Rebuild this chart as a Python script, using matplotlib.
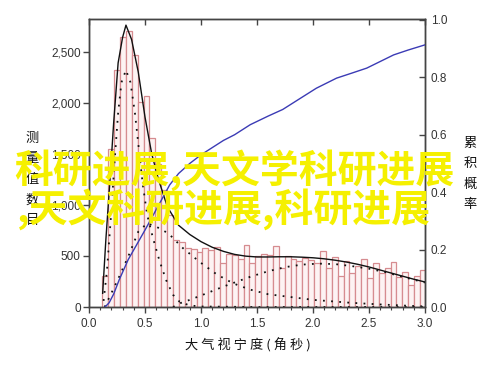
import numpy as np
import matplotlib.pyplot as plt
from matplotlib.ticker import FuncFormatter, MultipleLocator, NullLocator

plt.rcParams['font.family'] = ['Liberation Sans', 'Noto Sans CJK SC', 'DejaVu Sans']

# histogram of measured seeing values (bin width ~0.0525 arcsec, first edge 0.12)
bin_start = 0.12
bin_width = 0.0525
counts = [300, 1550, 2320, 2640, 2700, 2470, 2010, 2070, 1650, 1400,
          1150, 900, 660, 640, 580, 565, 540, 580, 560, 590,
          430, 520, 510, 470, 608, 430, 500, 520, 510, 598,
          380, 500, 470, 454, 477, 461, 430, 552, 380, 493,
          307, 454, 333, 400, 470, 284, 431, 330, 380, 444,
          290, 346, 216, 300, 363]

# fitted total (solid black)
fit_x = [0.122, 0.15, 0.1875, 0.22, 0.26, 0.30, 0.33, 0.38, 0.44, 0.50,
         0.56, 0.62, 0.70, 0.80, 0.90, 1.00, 1.10, 1.20, 1.30, 1.40,
         1.50, 1.60, 1.70, 1.80, 1.90, 2.00, 2.10, 2.20, 2.30, 2.40,
         2.50, 2.60, 2.70, 2.80, 2.90, 3.00]
fit_y = [134, 650, 1245, 1800, 2390, 2640, 2760, 2620, 2300, 1860,
         1500, 1250, 980, 800, 710, 640, 585, 545, 515, 498,
         490, 490, 492, 492, 488, 482, 472, 458, 440, 418,
         392, 362, 332, 302, 272, 245]

# fitted components (dotted)
comp1_x = [0.13, 0.16, 0.20, 0.23, 0.26, 0.29, 0.33, 0.37, 0.41, 0.44,
           0.48, 0.52, 0.57, 0.63, 0.69, 0.75, 0.81, 0.90, 1.00, 1.50, 2.00, 2.50, 3.00]
comp1_y = [60, 350, 950, 1450, 1900, 2200, 2320, 2200, 1900, 1600,
           1200, 900, 680, 450, 260, 120, 50, 15, 5, 0, 0, 0, 0]

comp2_x = [0.14, 0.25, 0.35, 0.44, 0.52, 0.60, 0.71, 0.84, 0.99, 1.14,
           1.29, 1.44, 1.60, 1.82, 2.00, 2.33, 2.60, 2.93, 3.00]
comp2_y = [0, 250, 493, 738, 820, 787, 720, 575, 440, 320,
           230, 170, 125, 95, 70, 42, 25, 8, 6]

comp3_x = [0.75, 0.81, 0.90, 1.05, 1.20, 1.32, 1.45, 1.60, 1.75, 1.90,
           2.05, 2.20, 2.35, 2.50, 2.65, 2.80, 3.00]
comp3_y = [0, 36, 70, 134, 200, 248, 300, 350, 390, 415,
           425, 420, 400, 375, 340, 295, 240]

# cumulative probability (blue, right axis)
cum_x = [0.143, 0.18, 0.22, 0.27, 0.35, 0.43, 0.50, 0.58, 0.65, 0.72,
         0.80, 0.90, 1.00, 1.10, 1.20, 1.30, 1.44, 1.60, 1.73, 1.90,
         2.03, 2.21, 2.35, 2.48, 2.60, 2.72, 2.85, 3.00]
cum_y = [0.0, 0.015, 0.045, 0.095, 0.165, 0.22, 0.268, 0.325, 0.375, 0.425,
         0.465, 0.50, 0.53, 0.555, 0.58, 0.60, 0.635, 0.665, 0.688, 0.73,
         0.762, 0.797, 0.815, 0.832, 0.855, 0.878, 0.895, 0.913]

overlay_lines = ["科研进展,天文学科研进展", ",天文科研进展,科研进展"]
ylabel_left = "测量值数目"
ylabel_right = "累积概率"
xlabel = "大 气 视 宁 度 ( 角 秒 )"

SPINE = "#444444"
CJK = ['Noto Sans CJK SC', 'DejaVu Sans']

fig = plt.figure(figsize=(5.0, 3.69), dpi=100)
ax = fig.add_axes([0.178, 0.168, 0.672, 0.7805])

centers = bin_start + bin_width * (np.arange(len(counts)) + 0.5)
ax.bar(centers, counts, width=bin_width, facecolor="#fdf3f3",
       edgecolor="#d68c90", linewidth=0.9, zorder=1)

ax.plot(fit_x, fit_y, color="#111111", lw=1.0, zorder=3)
for cx, cy in [(comp1_x, comp1_y), (comp2_x, comp2_y), (comp3_x, comp3_y)]:
    ax.plot(cx, cy, color="#111111", lw=1.3, ls=(0, (1, 3.5)), zorder=3)

ax.set_xlim(0, 3.0)
ax.set_ylim(0, 2820)
ax.xaxis.set_major_locator(MultipleLocator(0.5))
ax.xaxis.set_minor_locator(MultipleLocator(0.1))
ax.xaxis.set_major_formatter(FuncFormatter(lambda v, p: f"{v:.1f}"))
ax.yaxis.set_major_locator(MultipleLocator(500))
ax.yaxis.set_major_formatter(FuncFormatter(lambda v, p: f"{v:,.0f}"))
ax.tick_params(axis='x', which='major', direction='out', length=4, width=1, top=False,
               color=SPINE, labelsize=8.5, labelcolor="#333333", pad=4)
ax.tick_params(axis='x', which='minor', direction='out', length=2.5, width=0.8,
               top=False, color=SPINE)
ax.tick_params(axis='y', direction='out', length=4, width=1, color=SPINE,
               labelsize=8.5, labelcolor="#333333", pad=2)
for s in ax.spines.values():
    s.set_color(SPINE)
    s.set_linewidth(1.0)

ax2 = ax.twinx()
ax2.plot(cum_x, cum_y, color="#3b3bb5", lw=1.0, zorder=4)
ax2.set_ylim(0, 1.003)
ax2.yaxis.set_major_locator(MultipleLocator(0.2))
ax2.yaxis.set_minor_locator(NullLocator())
ax2.yaxis.set_major_formatter(FuncFormatter(lambda v, p: f"{v:.1f}"))
ax2.tick_params(axis='y', direction='in', length=4, width=1, color=SPINE,
                labelsize=8.5, labelcolor="#333333", pad=4)
for s in ax2.spines.values():
    s.set_color(SPINE)
    s.set_linewidth(1.0)

# top ticks point into the plot, majors only
ax_top = ax.twiny()
ax_top.set_xlim(ax.get_xlim())
ax_top.xaxis.set_major_locator(MultipleLocator(0.5))
ax_top.xaxis.set_minor_locator(NullLocator())
ax_top.tick_params(axis='x', which='both', direction='in', length=4, width=1,
                   color=SPINE, labeltop=False, bottom=False)
ax_top.yaxis.set_visible(False)
for s in ax_top.spines.values():
    s.set_color(SPINE)

# stacked vertical axis titles
for i, ch in enumerate(ylabel_left):
    fig.text(32 / 500, 1 - (138 + 20.7 * i) / 369, ch, family=CJK, fontsize=9.5,
             ha='center', va='center', color="#111111")
for i, ch in enumerate(ylabel_right):
    fig.text(470 / 500, 1 - (143 + 20.5 * i) / 369, ch, family=CJK, fontsize=9.5,
             ha='center', va='center', color="#111111")

fig.text(248 / 500, 1 - 345 / 369, xlabel, family=CJK, fontsize=9.5,
         ha='center', va='center', color="#111111")

# yellow overlay caption
fig.text(14 / 500, 1 - 170 / 369, overlay_lines[0], family=CJK, fontsize=28,
         fontweight='bold', color="#f5f000", ha='left', va='center', zorder=10)
fig.text(17 / 500, 1 - 209 / 369, overlay_lines[1], family=CJK, fontsize=28,
         fontweight='bold', color="#f5f000", ha='left', va='center', zorder=10)

fig.savefig("out.png", dpi=100)
